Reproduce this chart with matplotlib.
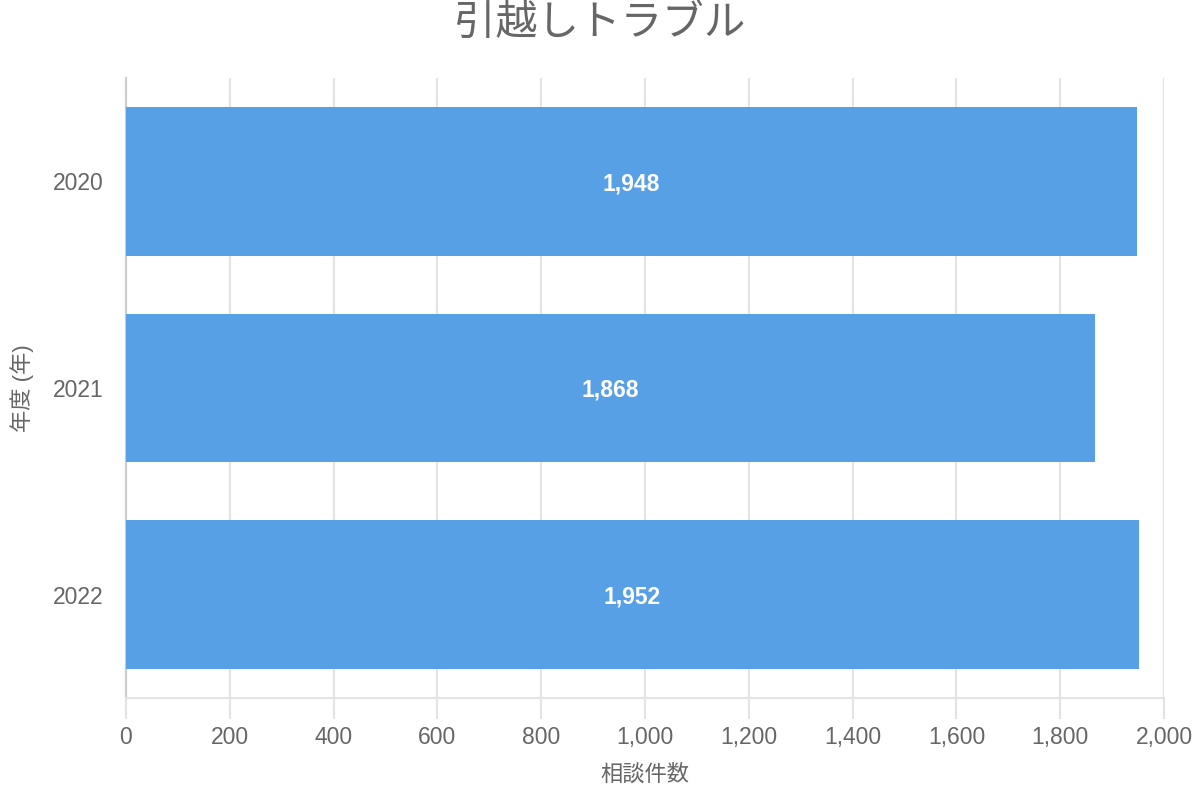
import matplotlib
matplotlib.use("Agg")
import matplotlib.pyplot as plt
from matplotlib.ticker import FuncFormatter

years = ["2020", "2021", "2022"]
counts = [1948, 1868, 1952]
xticks = [0, 200, 400, 600, 800, 1000, 1200, 1400, 1600, 1800, 2000]

plt.rcParams['font.family'] = ['Liberation Sans', 'Noto Sans CJK JP', 'DejaVu Sans']

fig = plt.figure(figsize=(12, 8), dpi=100)
ax = fig.add_axes([126/1200, 1-698/800, (1164-126)/1200, (698-78)/800])

ypos = list(range(len(years)))
ax.barh(ypos, counts, height=0.72, color='#57A0E5', zorder=3)
ax.set_ylim(len(years)-0.5, -0.5)
ax.set_xlim(0, 2000)
ax.set_yticks(ypos)
ax.set_yticklabels(years)
ax.set_xticks(xticks)
ax.xaxis.set_major_formatter(FuncFormatter(lambda v, p: f"{int(v):,}"))

for y, v in zip(ypos, counts):
    ax.text(v/2, y, f"{v:,}", ha='center', va='center_baseline', color='white',
            fontsize=16.5, fontweight='bold', zorder=4)

ax.grid(axis='x', color='#e3e3e3', linewidth=1.5, zorder=0)
ax.tick_params(axis='x', length=15, color='#e3e3e3', width=1.5, labelsize=16.5,
               labelcolor='#666666', pad=5)
ax.tick_params(axis='y', length=0, labelsize=16.5, labelcolor='#666666', pad=16)
for s in ['top', 'right']:
    ax.spines[s].set_visible(False)
ax.spines['bottom'].set_color('#e3e3e3')
ax.spines['bottom'].set_linewidth(1.5)
ax.spines['left'].set_color('#cccccc')
ax.spines['left'].set_linewidth(1.5)

ax.set_xlabel('相談件数', fontsize=16, color='#666666', labelpad=11)
ax.set_ylabel('年度 (年)', fontsize=16, color='#666666', labelpad=14)
fig.text(0.5, 1-3/800, '引越しトラブル', ha='center', va='top', fontsize=30,
         color='#666666', family=['Noto Sans CJK JP', 'DejaVu Sans'])

fig.savefig('out.png', dpi=100)
